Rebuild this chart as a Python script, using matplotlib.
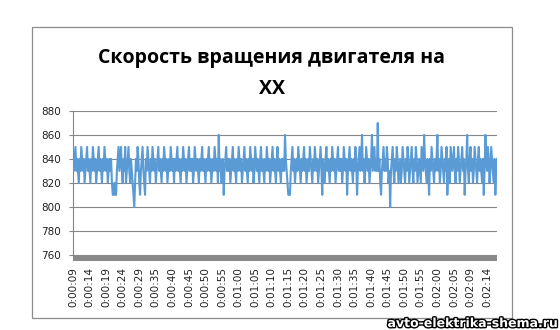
import matplotlib
matplotlib.use("Agg")
import matplotlib.pyplot as plt
import matplotlib.patheffects as pe
from matplotlib.patches import Rectangle

# Engine idle speed, rpm (~0.25 s per sample)
rpm = [
    840, 830, 840, 850, 830, 840, 830, 820, 840, 830, 850, 840, 830, 840, 820, 830, 840, 850, 830, 840, 830, 820, 840, 830, 850, 840, 830,
    840, 820, 830, 840, 850, 830, 840, 830, 820, 840, 830, 850, 840, 830, 840, 820, 830, 840, 830, 840, 820, 810, 810, 820, 810, 810, 830,
    840, 850, 830, 840, 850, 830, 820, 840, 830, 850, 820, 830, 840, 850, 830, 820, 840, 830, 820, 810, 800, 820, 840, 830, 850, 840, 820,
    810, 830, 840, 850, 830, 820, 810, 840, 830, 850, 840, 830, 820, 840, 830, 850, 840, 830, 840, 820, 830, 840, 850, 830, 840, 830, 820,
    840, 830, 850, 840, 830, 840, 820, 830, 840, 830, 850, 840, 830, 840, 820, 840, 830, 840, 850, 830, 840, 830, 820, 840, 830, 850, 840,
    830, 840, 820, 830, 840, 850, 830, 840, 830, 840, 820, 830, 850, 840, 830, 840, 830, 820, 840, 830, 840, 850, 830, 840, 830, 820, 840,
    830, 840, 850, 830, 840, 820, 830, 840, 830, 850, 840, 830, 840, 820, 860, 830, 840, 820, 830, 840, 810, 830, 840, 850, 830, 840, 830,
    840, 820, 830, 840, 850, 830, 840, 830, 820, 840, 830, 850, 840, 830, 840, 820, 830, 840, 850, 830, 840, 830, 820, 840, 830, 850, 840,
    830, 840, 820, 830, 850, 840, 830, 840, 830, 820, 840, 850, 830, 840, 830, 820, 840, 830, 850, 840, 830, 840, 820, 830, 840, 850, 830,
    840, 830, 820, 840, 850, 830, 840, 830, 820, 840, 830, 840, 830, 860, 840, 830, 820, 810, 810, 810, 830, 840, 850, 830, 840, 820, 830,
    840, 830, 850, 840, 830, 820, 840, 830, 840, 850, 830, 840, 820, 830, 840, 830, 850, 840, 830, 820, 840, 830, 850, 840, 830, 840, 820,
    830, 840, 850, 830, 810, 840, 830, 820, 840, 850, 830, 840, 830, 820, 840, 830, 850, 840, 830, 840, 820, 830, 840, 850, 830, 840, 830,
    840, 820, 830, 850, 840, 830, 840, 810, 830, 840, 850, 830, 840, 830, 820, 840, 830, 850, 840, 810, 830, 840, 850, 830, 840, 860, 830,
    840, 820, 830, 850, 840, 830, 840, 820, 830, 840, 860, 830, 840, 850, 830, 840, 830, 870, 830, 840, 820, 810, 830, 840, 850, 830, 840,
    830, 850, 840, 820, 830, 800, 830, 840, 850, 830, 820, 840, 830, 850, 840, 820, 830, 840, 820, 830, 850, 840, 830, 820, 840, 830, 850,
    840, 820, 830, 840, 850, 830, 820, 840, 830, 850, 840, 820, 830, 840, 830, 820, 850, 840, 830, 860, 840, 830, 820, 840, 830, 810, 840,
    830, 850, 840, 830, 820, 840, 830, 840, 860, 830, 840, 820, 830, 850, 840, 830, 820, 840, 830, 850, 810, 830, 840, 820, 850, 840, 830,
    840, 850, 830, 820, 840, 830, 850, 840, 820, 830, 840, 850, 830, 840, 810, 830, 840, 860, 830, 820, 840, 850, 830, 840, 820, 830, 850,
    840, 830, 820, 840, 850, 830, 840, 830, 820, 840, 810, 830, 860, 840, 830, 850, 840, 820, 830, 850, 840, 830, 820, 840, 810, 830, 840,
]

# time labels shown on the category axis, one every 20 samples
time_labels = [
    "0:00:09", "0:00:14", "0:00:19", "0:00:24", "0:00:29", "0:00:35", "0:00:40",
    "0:00:45", "0:00:50", "0:00:55", "0:01:00", "0:01:05", "0:01:10", "0:01:15",
    "0:01:20", "0:01:25", "0:01:30", "0:01:35", "0:01:40", "0:01:45", "0:01:50",
    "0:01:55", "0:02:00", "0:02:05", "0:02:09", "0:02:14",
]
label_step = 20

LINE = "#5B9BD5"
GRID = "#868686"
BAND = "#898989"

W, H = 560, 330
fig = plt.figure(figsize=(W / 100, H / 100), dpi=100, facecolor="white")

# chart area border
fig.patches.append(Rectangle((32 / W, 1 - 318 / H), 480 / W, 291 / H,
                             transform=fig.transFigure, fill=False,
                             edgecolor="#8c8c8c", linewidth=0.9))

ax = fig.add_axes([73 / W, 1 - 254.7 / H, 424 / W, 143.7 / H])
x = list(range(len(rpm)))
ax.plot(x, rpm, color=LINE, linewidth=1.5, zorder=3)

ax.set_xlim(0, len(rpm) - 1)
ax.set_ylim(760, 880)
ax.set_yticks(range(760, 881, 20))
ax.grid(True, axis="y", color=GRID, linewidth=0.8)
ax.set_axisbelow(True)

tick_pos = [i * label_step for i in range(len(time_labels))]
ax.set_xticks(tick_pos)
ax.set_xticklabels(time_labels, rotation=90, fontsize=7.5, color="#222222")
ax.tick_params(axis="x", length=0, pad=9)
ax.tick_params(axis="y", length=3.2, width=0.8, color=GRID, pad=5.4,
               labelsize=7.5, labelcolor="#222222")

for s in ("top", "right", "bottom"):
    ax.spines[s].set_visible(False)
ax.spines["left"].set_color(GRID)
ax.spines["left"].set_linewidth(0.8)

# thick grey floor under the 760 line
ax.add_patch(Rectangle((0, -6 / 143.7), 1, 6 / 143.7, transform=ax.transAxes,
                       clip_on=False, color=BAND, linewidth=0, zorder=2))

fig.text(272 / W, 1 - 62.5 / H, "Скорость вращения двигателя на",
         ha="center", va="baseline", fontsize=14, fontweight="bold",
         family="Open Sans", color="black")
fig.text(272 / W, 1 - 93.5 / H, "XX",
         ha="center", va="baseline", fontsize=14, fontweight="bold",
         family="Open Sans", color="black")

fig.text(557 / W, 1 - 327 / H, "avto-elektrika-shema.ru",
         ha="right", va="baseline", fontsize=9, fontweight="bold", color="white",
         path_effects=[pe.withStroke(linewidth=2, foreground="black")])

fig.savefig("out.png", dpi=100, facecolor="white")
